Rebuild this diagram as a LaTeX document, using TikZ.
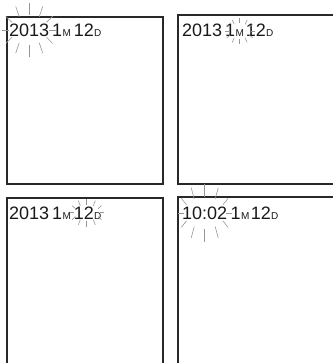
\documentclass[tikz,border=0pt]{standalone}
\usepackage{fontspec}
\setmainfont{Liberation Sans}
\usetikzlibrary{positioning,calc}
\definecolor{lcdframe}{RGB}{40,40,40}
\definecolor{lcdtext}{RGB}{25,25,25}
\definecolor{glintgray}{RGB}{150,150,150}
\tikzset{
  panel/.style={draw=lcdframe,line width=1.7bp},
  bigdig/.style={inner sep=0pt,font=\fontsize{18bp}{21bp}\selectfont,text=lcdtext},
  unitlbl/.style={inner sep=0pt,font=\fontsize{10bp}{12bp}\selectfont,text=lcdtext},
  glint/.style={draw=glintgray,line width=0.6bp},
}
% rays round a blinking field: centre, inner rx/ry, outer rx/ry
\newcommand\blinkrays[5]{%
  \foreach \t in {0,30,...,330}
    \draw[glint] ($(#1)+(\t:#2 and #3)$) -- ($(#1)+(\t:#4 and #5)$);}

\begin{document}
\begin{tikzpicture}[x=1bp,y=-1bp]
\useasboundingbox (0,0) rectangle (333,363);
\clip (0,0) rectangle (333,363);

% ── LCD frames ───────────────────────────────────────────────
\draw[panel] (7,17) rectangle (163,184);
\draw[panel] (178,15) rectangle (345,184);
\draw[panel] (7,198) rectangle (163,380);
\draw[panel] (178,197) rectangle (345,380);

% ── Panel 1: year blinking ───────────────────────────────────
\node[bigdig,anchor=base west] (yr1) at (9,36) {2013};
\node[bigdig,base right=2.5bp of yr1] (mo1) {1};
\node[unitlbl,base right=0bp of mo1] (mu1) {M};
\node[bigdig,base right=2.5bp of mu1] (dy1) {12};
\node[unitlbl,base right=0bp of dy1] (du1) {D};
\blinkrays{yr1.center}{20}{15}{27}{27}

% ── Panel 2: month blinking ──────────────────────────────────
\node[bigdig,anchor=base west] (yr2) at (182,36) {2013};
\node[bigdig,base right=2.5bp of yr2] (mo2) {1};
\node[unitlbl,base right=0bp of mo2] (mu2) {M};
\node[bigdig,base right=1.5bp of mu2] (dy2) {12};
\node[unitlbl,base right=0bp of dy2] (du2) {D};
\coordinate (g2) at ($(mo2.east)!0.5!(mu2.east)$);
\blinkrays{g2}{11}{8}{15}{13}

% ── Panel 3: day blinking ────────────────────────────────────
\node[bigdig,anchor=base west] (yr3) at (9,219) {2013};
\node[bigdig,base right=2.5bp of yr3] (mo3) {1};
\node[unitlbl,base right=0bp of mo3] (mu3) {M};
\node[bigdig,base right=2.5bp of mu3] (dy3) {12};
\node[unitlbl,base right=0bp of dy3] (du3) {D};
\coordinate (g3) at ($(dy3.center)+(3,0)$);
\blinkrays{g3}{13}{8}{17}{14}

% ── Panel 4: time blinking ───────────────────────────────────
\node[bigdig,anchor=base west] (tm4) at (182,219) {10:02};
\node[bigdig,base right=3bp of tm4] (mo4) {1};
\node[unitlbl,base right=0bp of mo4] (mu4) {M};
\node[bigdig,base right=1bp of mu4] (dy4) {12};
\node[unitlbl,base right=0bp of dy4] (du4) {D};
\blinkrays{tm4.center}{21}{16}{27}{29}

\end{tikzpicture}
\end{document}
